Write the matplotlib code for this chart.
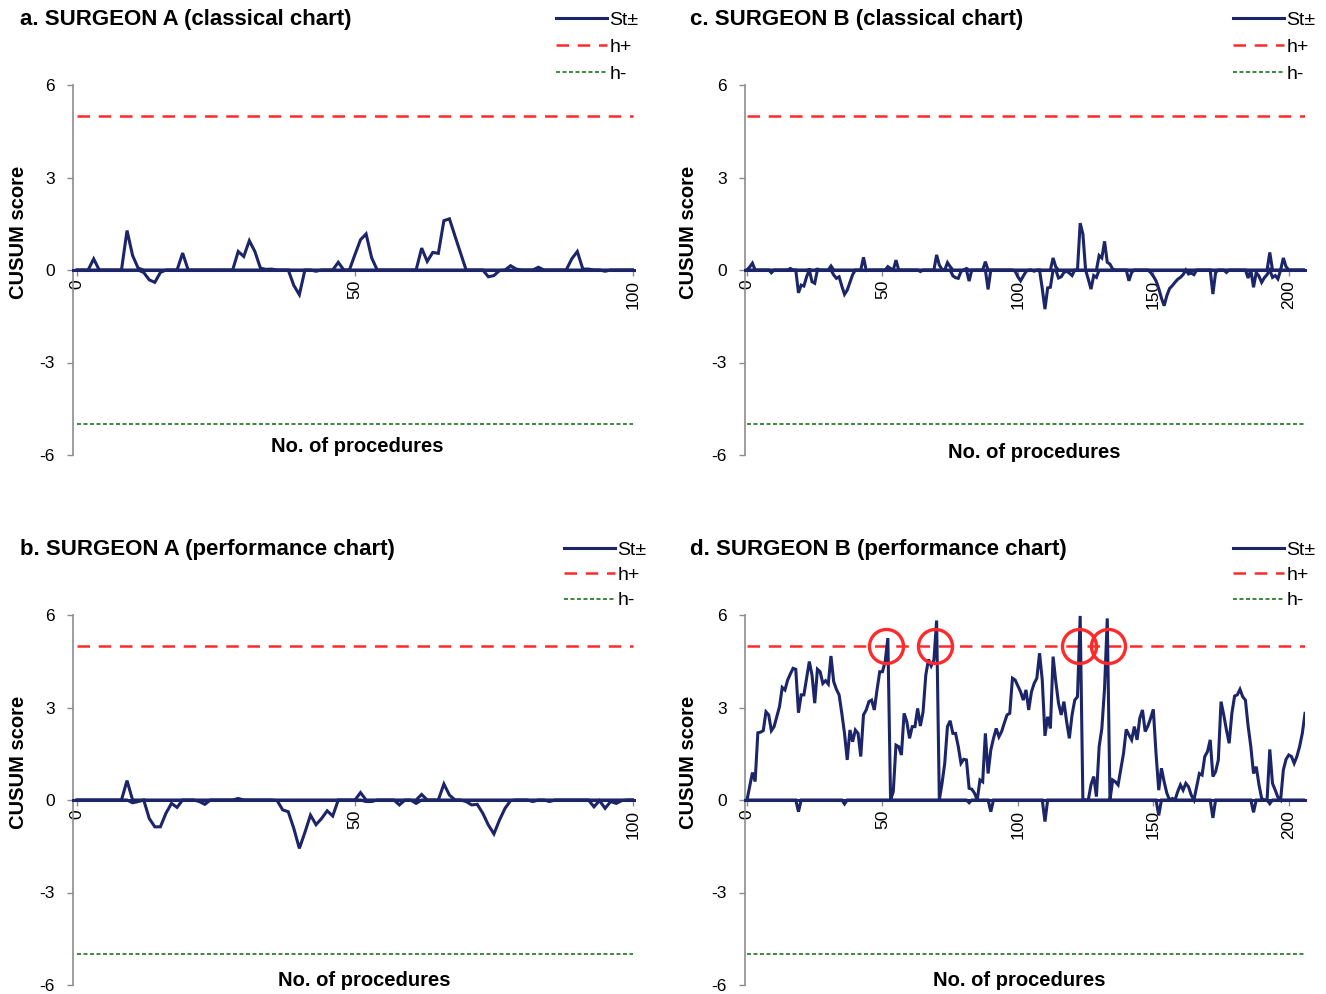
import numpy as np
import matplotlib
matplotlib.use("Agg")
import matplotlib.pyplot as plt

plt.rcParams['font.family'] = ['Liberation Sans', 'DejaVu Sans']

# --- data ---
h_plus = 5
h_minus = -5
y_ticks = [-6, -3, 0, 3, 6]
x_ticks_a = [0, 50, 100]
x_ticks_b = [0, 50, 100, 150, 200]

# surgeon A, classical chart (St+ above 0, St- below 0)
surg_a_classical = [
    0, 0, 0, 0.36, 0, 0, 0, 0, 0, 1.28,
    0.47, 0.06, -0.08, -0.32, -0.4, -0.08, 0, 0, 0, 0.55,
    0, 0, 0, 0, 0, 0, 0, 0, 0, 0.6,
    0.44, 0.95, 0.6, 0.06, 0.02, 0.03, 0, 0, 0, -0.5,
    -0.8, 0, 0, -0.04, 0, 0, 0, 0.25, 0, 0,
    0.5, 0.98, 1.17, 0.4, 0, 0, 0, 0, 0, 0,
    0, 0, 0.71, 0.28, 0.57, 0.54, 1.6, 1.66, 1.1, 0.55,
    0, 0, 0, 0, -0.22, -0.18, -0.02, 0, 0.14, 0.03,
    0, 0, 0, 0.09, 0, 0, 0, 0, 0, 0.36,
    0.6, 0.03, 0.03, 0, 0, -0.04, 0, 0, 0, 0,
    0]

# surgeon A, performance chart
surg_a_perf = [
    0, 0, 0, 0, 0, 0, 0, 0, 0, 0.63,
    -0.09, -0.05, 0, -0.6, -0.87, -0.87, -0.43, -0.11, -0.24, 0,
    0, 0, -0.05, -0.14, 0, 0, 0, 0, 0, 0.05,
    0, 0, 0, 0, 0, 0, -0.02, -0.32, -0.38, -0.92,
    -1.57, -1.05, -0.49, -0.8, -0.6, -0.35, -0.52, 0, 0, 0,
    0, 0.24, -0.05, -0.05, 0, 0, 0, 0, -0.16, 0,
    0, -0.11, 0.18, 0, 0, 0, 0.52, 0.16, 0, 0,
    -0.05, -0.16, -0.14, -0.43, -0.81, -1.1, -0.65, -0.27, -0.02, 0,
    0, 0, -0.05, 0, 0, -0.05, 0, 0, 0, 0,
    0, 0, 0, -0.22, -0.02, -0.27, -0.05, -0.11, -0.02, 0,
    0]

# surgeon B, classical chart
surg_b_classical = [
    0, 0.1, 0.22, 0, 0, 0, 0, 0, 0, -0.09,
    0, 0, 0, 0, 0, 0, 0.05, 0, 0, -0.74,
    -0.49, -0.52, -0.22, 0.02, -0.38, -0.43, 0.03, 0, 0, 0,
    0, 0.13, -0.16, -0.27, -0.22, -0.52, -0.79, -0.65, -0.4, -0.15,
    0, 0, 0, 0.41, -0.02, 0, 0, 0, 0, 0,
    0, 0, 0.11, 0.05, 0, 0.32, 0, 0, 0, 0,
    0, 0, 0, 0, -0.05, 0, 0, 0, 0, 0,
    0.49, 0.16, 0.02, 0, 0.24, 0.11, -0.19, -0.25, -0.27, -0.05,
    0, 0.05, -0.36, 0, 0, 0, 0, 0, 0.27, -0.63,
    0, 0, 0, 0, 0, 0, 0, 0, 0, -0.04,
    -0.22, -0.35, -0.2, -0.05, 0, 0, -0.04, 0, 0, -0.6,
    -1.27, -0.58, -0.56, 0.39, 0.1, -0.26, -0.22, -0.08, -0.04, -0.1,
    -0.18, 0, 0, 1.52, 1.17, 0, -0.3, -0.62, -0.18, -0.24,
    0.47, 0.39, 0.93, 0.25, 0.19, 0.03, 0, 0, 0, 0,
    0, -0.35, -0.08, 0, 0, 0, 0, 0, 0, -0.08,
    -0.2, -0.35, -0.6, -0.91, -1.16, -0.83, -0.6, -0.51, -0.4, -0.3,
    -0.24, -0.15, 0, -0.13, -0.1, -0.15, 0, 0, 0, 0,
    0, 0, -0.78, -0.08, 0, 0, 0, -0.08, 0, 0,
    0, 0, 0, 0, 0, -0.26, 0, -0.56, -0.08, -0.2,
    -0.4, -0.25, -0.15, 0.57, -0.24, -0.18, -0.29, 0, 0.39, 0.11,
    0, 0, 0, 0, 0, 0, 0]

# surgeon B, performance chart: upper CUSUM
surg_b_perf_up = [
    0, 0.45, 0.89, 0.6, 2.18, 2.2, 2.25, 2.86, 2.76, 2.25,
    2.38, 2.7, 3.03, 3.65, 3.57, 3.89, 4.09, 4.27, 4.24, 2.83,
    3.41, 3.41, 3.95, 4.49, 4.05, 3.14, 4.24, 4.16, 3.78, 3.87,
    3.76, 4.67, 3.84, 3.59, 3.41, 2.81, 2.16, 1.3, 2.27, 1.89,
    2.27, 2.16, 1.41, 2.76, 2.92, 3.19, 3.24, 2.92, 3.57, 4.16,
    4.16, 4.49, 5.25, 0, 0.27, 1.78, 1.73, 1.46, 2.81, 2.54,
    2.0, 2.38, 2.38, 2.97, 2.4, 2.86, 4.05, 4.56, 4.35, 4.54,
    5.82, 0, 0.54, 1.19, 2.38, 2.57, 2.16, 2.16, 1.73, 1.19,
    1.32, 1.3, 0.38, 0.35, 0.22, 0, 0.65, 0.59, 2.16, 0.86,
    1.62, 2.0, 2.32, 2.05, 2.22, 2.5, 2.76, 2.81, 3.95, 3.89,
    3.7, 3.51, 3.24, 3.57, 2.92, 3.5, 3.78, 3.95, 4.76, 3.89,
    2.08, 2.7, 2.32, 4.65, 3.84, 3.14, 2.76, 3.19, 2.54, 2.0,
    2.76, 3.24, 3.35, 5.97, 0, 0, 0, 0.5, 0.76, 0.11,
    1.73, 2.32, 3.62, 5.89, 0, 0.65, 0.59, 0.49, 1.0, 1.51,
    2.29, 2.11, 1.95, 2.38, 1.95, 2.65, 2.92, 2.22, 2.4, 2.65,
    2.94, 1.51, 0.32, 1.03, 0.59, 0.22, 0, 0.05, 0, 0.27,
    0.49, 0.32, 0.54, 0.43, 0.16, 0, 0.43, 0.86, 0.81, 1.41,
    1.57, 1.95, 0.76, 0.92, 1.3, 3.19, 2.76, 2.27, 1.84, 2.81,
    3.37, 3.41, 3.59, 3.35, 3.24, 2.4, 1.73, 0.86, 1.08, 0.5,
    0.05, 0, 0, 1.64, 0.54, 0.32, 0.09, 0, 0.97, 1.32,
    1.46, 1.41, 1.19, 1.41, 1.73, 2.16, 2.81]

# surgeon B, performance chart: lower CUSUM (only the few dips, rest is 0)
surg_b_perf_dip_at = [19, 36, 82, 90, 110, 152, 172, 187, 193]
surg_b_perf_dip_val = [-0.38, -0.13, -0.09, -0.38, -0.7, -0.5, -0.58, -0.4, -0.12]

# procedures flagged with a red circle (signal above h+)
signal_at = [51.4, 69.4, 122.6, 133.2]

navy = '#1b2568'
red = '#ff2a2a'
green = '#2f7d32'
grey = '#8c8c8c'

W, H = 1326, 994
fig = plt.figure(figsize=(W / 100, H / 100), dpi=100)


def add_ax(l, t, r, b):
    return fig.add_axes([l / W, 1 - b / H, (r - l) / W, (b - t) / H])


def split(vals):
    v = np.array(vals, dtype=float)
    return np.clip(v, 0, None), np.clip(v, None, 0)


def draw(ax, up, low, xlim, xticks, xlab_xy, ylab_x):
    x = np.arange(len(up))
    ax.plot(x, np.full(len(x), h_plus), color=red, lw=1.8, dashes=(5, 3.5), zorder=2, label='h+')
    ax.plot(x, np.full(len(x), h_minus), color=green, lw=1.3, dashes=(2.2, 1.4), zorder=2, label='h-')
    ax.plot(x, up, color=navy, lw=2.2, zorder=3, label='St±', solid_joinstyle='miter')
    ax.plot(x, low, color=navy, lw=2.2, zorder=3, solid_joinstyle='miter')

    ax.set_xlim(*xlim)
    ax.set_ylim(-6, 6)
    ax.set_yticks(y_ticks)
    ax.set_yticklabels([str(v) for v in y_ticks])
    ax.set_xticks(xticks)
    ax.set_xticklabels([str(v) for v in xticks])

    for s in ['top', 'right']:
        ax.spines[s].set_visible(False)
    ax.spines['left'].set_color(grey)
    ax.spines['left'].set_linewidth(1.2)
    ax.spines['bottom'].set_position(('data', 0))
    ax.spines['bottom'].set_color(navy)
    ax.spines['bottom'].set_linewidth(2.2)

    ax.tick_params(axis='y', direction='out', length=4, width=1, color=grey, pad=9, labelsize=12.5)
    ax.tick_params(axis='x', direction='out', length=4, width=1, color=grey, pad=3,
                   labelsize=12.5, labelrotation=90)

    ax.text(xlab_xy[0], xlab_xy[1], 'No. of procedures', transform=ax.transAxes,
            ha='center', va='center', fontsize=14.5, fontweight='bold')
    ax.set_ylabel('CUSUM score', fontsize=14.5, fontweight='bold')
    ax.yaxis.set_label_coords(ylab_x, 0.603)
    ax.patch.set_alpha(0)


def legend(ax, left, top, spacing):
    handles, labels = ax.get_legend_handles_labels()
    order = [labels.index(k) for k in ['St±', 'h+', 'h-']]
    ax.legend([handles[i] for i in order], [labels[i] for i in order],
              loc='upper left', bbox_to_anchor=(left / W, 1 - top / H),
              bbox_transform=fig.transFigure, frameon=False, fontsize=14,
              handlelength=2.6, handletextpad=0.15, labelspacing=spacing,
              borderpad=0, borderaxespad=0)


titles = ['a. SURGEON A (classical chart)', 'b. SURGEON A (performance chart)',
          'c. SURGEON B (classical chart)', 'd. SURGEON B (performance chart)']

# a
ax_a = add_ax(73, 85, 634, 455)
up, low = split(surg_a_classical)
draw(ax_a, up, low, (-0.72, 100.2), x_ticks_a, (0.506, 0.022), -0.08)
legend(ax_a, 556, 11, 0.5)
fig.text(20 / W, 1 - 20 / H, titles[0], fontsize=16, fontweight='bold', va='center')

# b
ax_b = add_ax(73, 615, 634, 985)
up, low = split(surg_a_perf)
draw(ax_b, up, low, (-0.72, 100.2), x_ticks_a, (0.52, 0.011), -0.08)
legend(ax_b, 564, 541, 0.4)
fig.text(20 / W, 1 - 550 / H, titles[1], fontsize=16, fontweight='bold', va='center')

# c
ax_c = add_ax(745, 85, 1305, 455)
up, low = split(surg_b_classical)
draw(ax_c, up, low, (-0.74, 206), x_ticks_b, (0.516, 0.008), -0.084)
legend(ax_c, 1233, 11, 0.5)
fig.text(690 / W, 1 - 20 / H, titles[2], fontsize=16, fontweight='bold', va='center')

# d
ax_d = add_ax(745, 615, 1305, 985)
low = np.zeros(len(surg_b_perf_up))
low[surg_b_perf_dip_at] = surg_b_perf_dip_val
draw(ax_d, np.array(surg_b_perf_up), low, (-0.74, 206), x_ticks_b, (0.49, 0.011), -0.084)
ax_d.plot(signal_at, np.full(len(signal_at), h_plus), 'o', ms=24.5, mfc='none', mec=red,
          mew=2.4, zorder=5, clip_on=False)
legend(ax_d, 1233, 541, 0.4)
fig.text(690 / W, 1 - 550 / H, titles[3], fontsize=16, fontweight='bold', va='center')

fig.savefig('out.png', dpi=100)
